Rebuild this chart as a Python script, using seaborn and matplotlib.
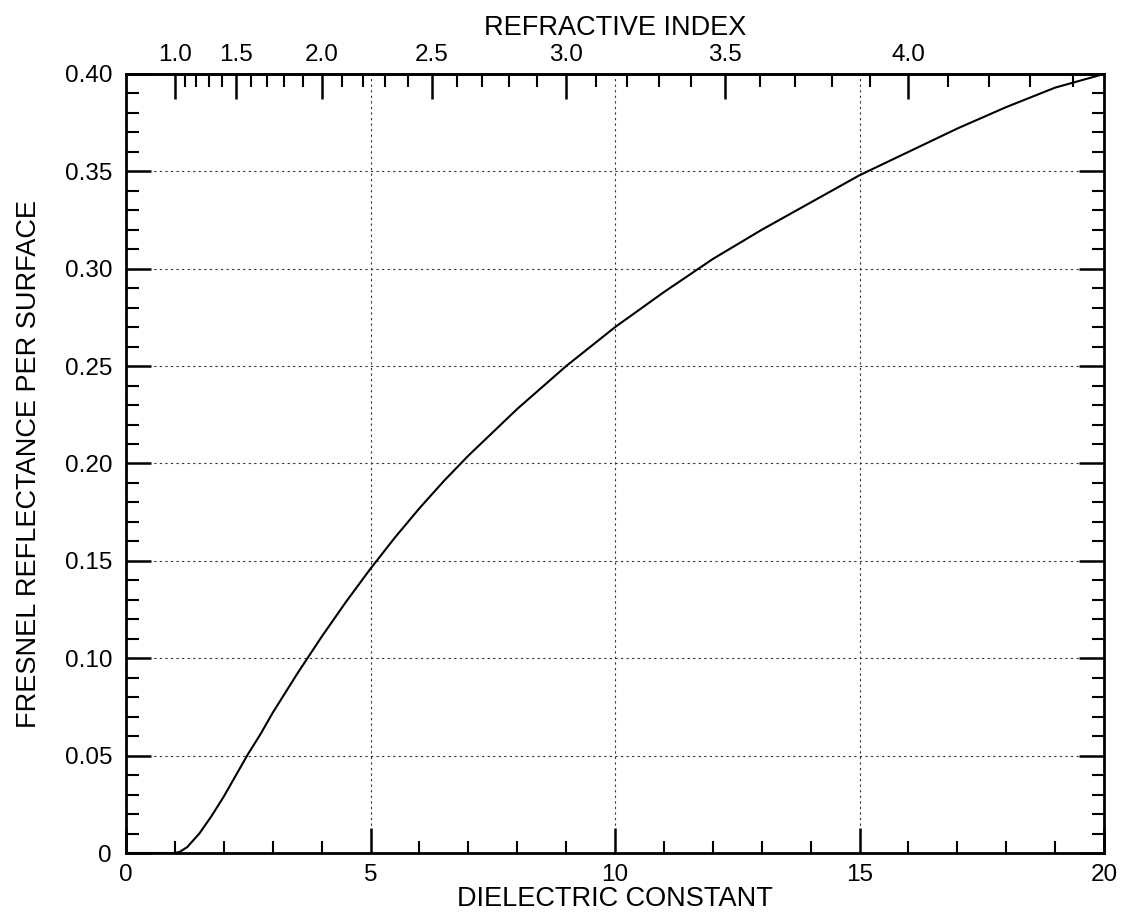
import numpy as np
import pandas as pd
import matplotlib
matplotlib.use("Agg")
import matplotlib.pyplot as plt
from matplotlib.ticker import MultipleLocator, FixedLocator
import seaborn as sns

# Values
dielectric = [0.0, 1.0, 1.1, 1.25, 1.5, 1.75, 2.0, 2.25, 2.5, 2.75, 3.0, 3.5, 4.0, 4.5, 5.0,
              5.5, 6.0, 6.5, 7.0, 7.5, 8.0, 8.5, 9.0, 9.5, 10.0, 11.0, 12.0, 13.0, 14.0,
              15.0, 16.0, 17.0, 18.0, 19.0, 20.0]
reflectance = [0.0, 0.0, 0.0006, 0.003, 0.010, 0.019, 0.029, 0.040, 0.051, 0.061, 0.072,
               0.092, 0.111, 0.129, 0.146, 0.162, 0.177, 0.191, 0.204, 0.216, 0.228, 0.239,
               0.250, 0.260, 0.270, 0.288, 0.305, 0.320, 0.334, 0.348, 0.360, 0.372, 0.383,
               0.393, 0.400]
x_ticks = [0, 5, 10, 15, 20]
y_ticks = [0, 0.05, 0.10, 0.15, 0.20, 0.25, 0.30, 0.35, 0.40]
y_tick_labels = ["0", "0.05", "0.10", "0.15", "0.20", "0.25", "0.30", "0.35", "0.40"]
index_ticks = [1.0, 1.5, 2.0, 2.5, 3.0, 3.5, 4.0]
index_tick_labels = ["1.0", "1.5", "2.0", "2.5", "3.0", "3.5", "4.0"]
index_minor = [1.1, 1.2, 1.3, 1.4, 1.6, 1.7, 1.8, 1.9, 2.1, 2.2, 2.3, 2.4, 2.6, 2.7, 2.8, 2.9,
               3.1, 3.2, 3.3, 3.4, 3.6, 3.7, 3.8, 3.9, 4.1, 4.2, 4.3, 4.4]

df = pd.DataFrame({"eps": dielectric, "R": reflectance})

sns.set_theme(style="ticks")
plt.rcParams['font.family'] = ['Liberation Sans', 'DejaVu Sans']
plt.rcParams.update({"text.color": "black", "axes.labelcolor": "black",
                     "xtick.color": "black", "ytick.color": "black",
                     "xtick.labelcolor": "black", "ytick.labelcolor": "black"})

fig = plt.figure(figsize=(11.28, 9.22), dpi=100)
ax = fig.add_axes([126/1128, (922-853)/922, (1104-126)/1128, (853-74)/922])

sns.lineplot(data=df, x="eps", y="R", ax=ax, color="black", linewidth=1.5, sort=True)

ax.set_xlim(0, 20)
ax.set_ylim(0, 0.40)
ax.set_xticks(x_ticks)
ax.set_xticklabels([str(t) for t in x_ticks])
ax.set_yticks(y_ticks)
ax.set_yticklabels(y_tick_labels)
ax.xaxis.set_minor_locator(MultipleLocator(1))
ax.yaxis.set_minor_locator(MultipleLocator(0.01))

ax.tick_params(axis="both", which="major", direction="in", length=18, width=1.8,
               labelsize=17.5, colors="black", pad=8)
ax.tick_params(axis="y", which="major", pad=10)
ax.tick_params(axis="both", which="minor", direction="in", length=9, width=1.5, colors="black")
ax.tick_params(axis="y", which="both", right=True)
ax.tick_params(axis="x", which="both", top=False)

for s in ax.spines.values():
    s.set_visible(True)
    s.set_linewidth(2)
    s.set_color("black")

ax.grid(False)
for xv in [5, 10, 15]:
    ax.axvline(xv, color="#333333", linestyle=(0, (2, 3)), linewidth=0.8, zorder=0)
for yv in y_ticks[1:-1]:
    ax.axhline(yv, color="#333333", linestyle=(0, (2, 3)), linewidth=0.8, zorder=0)

ax.set_xlabel("DIELECTRIC CONSTANT", fontsize=19.5, labelpad=0)
ax.set_ylabel("FRESNEL REFLECTANCE PER SURFACE", fontsize=19.5, labelpad=16)

sec = ax.secondary_xaxis("top", functions=(lambda x: np.sqrt(np.clip(x, 0, None)), lambda n: n ** 2))
sec.xaxis.set_major_locator(FixedLocator(index_ticks))
sec.set_xticklabels(index_tick_labels)
sec.xaxis.set_minor_locator(FixedLocator(index_minor))
sec.tick_params(axis="x", which="major", direction="in", length=18, width=1.8,
                labelsize=17.5, colors="black", pad=6)
sec.tick_params(axis="x", which="minor", direction="in", length=9, width=1.5, colors="black")
sec.spines["top"].set_linewidth(2)
sec.set_xlabel("REFRACTIVE INDEX", fontsize=19.5, labelpad=6)

fig.savefig("out.png", dpi=100, facecolor="white")
